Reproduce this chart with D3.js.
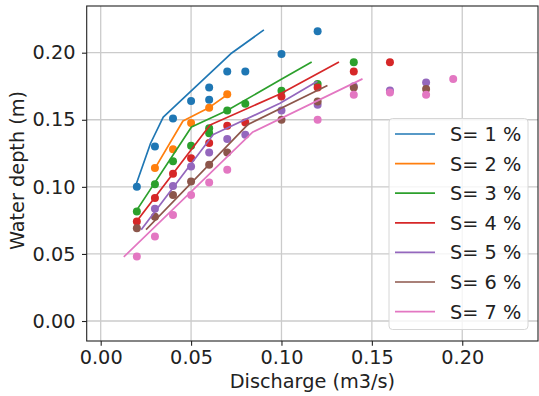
<!DOCTYPE html>
<html>
<head>
<meta charset="utf-8">
<script src="https://cdn.jsdelivr.net/npm/d3@7"></script>
<style>
  html, body { margin: 0; padding: 0; background: #fff; }
  svg { display: block; font-family: "DejaVu Sans", sans-serif; }
</style>
</head>
<body>
<svg id="chart" width="539" height="396"></svg>
<script>
// Tick values on both axes
const xTicks = [0.00, 0.05, 0.10, 0.15, 0.20];
const yTicks = [0.00, 0.05, 0.10, 0.15, 0.20];

// Slope of each series (%)
const slopes = [1, 2, 3, 4, 5, 6, 7];
const colors = ["#1f77b4", "#ff7f0e", "#2ca02c", "#d62728", "#9467bd", "#8c564b", "#e377c2"];

// Measured points: discharge (m3/s) and water depth (m)
const s1Q = [0.02, 0.03, 0.04, 0.05, 0.06, 0.06, 0.07, 0.08, 0.10, 0.12];
const s1H = [0.100, 0.130, 0.151, 0.164, 0.165, 0.174, 0.186, 0.186, 0.199, 0.216];
const s2Q = [0.03, 0.04, 0.05, 0.06, 0.07];
const s2H = [0.114, 0.128, 0.1475, 0.159, 0.169];
const s3Q = [0.02, 0.03, 0.04, 0.05, 0.06, 0.06, 0.07, 0.08, 0.10, 0.12, 0.14];
const s3H = [0.0816, 0.102, 0.119, 0.1306, 0.140, 0.1437, 0.157, 0.162, 0.1716, 0.1766, 0.1928];
const s4Q = [0.02, 0.03, 0.04, 0.05, 0.06, 0.07, 0.08, 0.10, 0.12, 0.14, 0.16];
const s4H = [0.0742, 0.0916, 0.1097, 0.1214, 0.1326, 0.1455, 0.148, 0.1674, 0.174, 0.186, 0.1928];
const s5Q = [0.03, 0.04, 0.05, 0.06, 0.07, 0.08, 0.10, 0.12, 0.14, 0.16, 0.18];
const s5H = [0.0836, 0.1007, 0.1152, 0.1256, 0.1356, 0.1388, 0.157, 0.1612, 0.1749, 0.1719, 0.1778];
const s6Q = [0.02, 0.03, 0.04, 0.05, 0.06, 0.07, 0.10, 0.12, 0.14, 0.18];
const s6H = [0.0692, 0.0778, 0.094, 0.104, 0.1164, 0.1256, 0.150, 0.1637, 0.174, 0.1729];
const s7Q = [0.02, 0.03, 0.04, 0.05, 0.06, 0.07, 0.12, 0.14, 0.16, 0.18, 0.195];
const s7H = [0.048, 0.0629, 0.079, 0.094, 0.1032, 0.1127, 0.150, 0.1687, 0.1704, 0.1687, 0.1804];

// Computed depth curves
const c1Q = [0.0193, 0.0276, 0.0346, 0.0725, 0.0899];
const c1H = [0.1007, 0.1325, 0.1519, 0.1998, 0.2166];
const c2Q = [0.0300, 0.0455, 0.0601, 0.0700];
const c2H = [0.1138, 0.1491, 0.1592, 0.1687];
const c3Q = [0.0194, 0.0502, 0.0699, 0.0992, 0.1163];
const c3H = [0.0815, 0.1446, 0.1569, 0.1796, 0.1927];
const c4Q = [0.0198, 0.0605, 0.0992, 0.1314];
const c4H = [0.0742, 0.1461, 0.1692, 0.1928];
const c5Q = [0.0227, 0.0623, 0.0992, 0.1195];
const c5H = [0.0686, 0.1390, 0.1623, 0.1784];
const c6Q = [0.0254, 0.0815, 0.1250];
const c6H = [0.0686, 0.1465, 0.1752];
const c7Q = [0.0131, 0.0842, 0.1444];
const c7H = [0.0482, 0.1409, 0.1802];

const pointsQ = [s1Q, s2Q, s3Q, s4Q, s5Q, s6Q, s7Q];
const pointsH = [s1H, s2H, s3H, s4H, s5H, s6H, s7H];
const curveQ = [c1Q, c2Q, c3Q, c4Q, c5Q, c6Q, c7Q];
const curveH = [c1H, c2H, c3H, c4H, c5H, c6H, c7H];

const svg = d3.select("#chart");
const plotLeft = 86.7, plotRight = 538, plotTop = 6, plotBottom = 341;

const x = d3.scaleLinear().domain([-0.00774, 0.2419]).range([plotLeft, plotRight]);
const y = d3.scaleLinear().domain([-0.0149, 0.2348]).range([plotBottom, plotTop]);

const fontSize = 19.3;

// Grid
const grid = svg.append("g");
grid.selectAll("line.gx").data(xTicks).join("line").attr("class", "gx")
  .attr("x1", d => x(d)).attr("x2", d => x(d))
  .attr("y1", plotTop).attr("y2", plotBottom)
  .attr("stroke", "#cbcbcb").attr("stroke-width", 1.3);
grid.selectAll("line.gy").data(yTicks).join("line").attr("class", "gy")
  .attr("y1", d => y(d)).attr("y2", d => y(d))
  .attr("x1", plotLeft).attr("x2", plotRight)
  .attr("stroke", "#cbcbcb").attr("stroke-width", 1.3);

// Axes
const xAxis = d3.axisBottom(x).tickValues(xTicks).tickFormat(d3.format(".2f")).tickSizeOuter(0).tickSize(4.7).tickPadding(5);
const yAxis = d3.axisLeft(y).tickValues(yTicks).tickFormat(d3.format(".2f")).tickSizeOuter(0).tickSize(4.7).tickPadding(6.5);

const gx = svg.append("g").attr("transform", `translate(0,${plotBottom})`).call(xAxis);
const gy = svg.append("g").attr("transform", `translate(${plotLeft},0)`).call(yAxis);
[gx, gy].forEach(g => {
  g.select(".domain").remove();
  g.selectAll(".tick line").attr("stroke", "#222").attr("stroke-width", 1.1);
  g.selectAll(".tick text").attr("fill", "#222")
    .style("font-family", "DejaVu Sans, sans-serif").style("font-size", fontSize + "px");
});

// Measured points (drawn beneath the curves)
const pts = svg.append("g");
slopes.forEach((s, i) => {
  const data = pointsQ[i].map((q, j) => ({ q, h: pointsH[i][j] }));
  pts.append("g").selectAll("circle").data(data).join("circle")
    .attr("cx", d => x(d.q)).attr("cy", d => y(d.h))
    .attr("r", 4).attr("fill", colors[i]);
});

// Computed curves
const lineGen = d3.line().x(d => x(d.q)).y(d => y(d.h));
const curves = svg.append("g");
slopes.forEach((s, i) => {
  const data = curveQ[i].map((q, j) => ({ q, h: curveH[i][j] }));
  curves.append("path").datum(data)
    .attr("d", lineGen).attr("fill", "none")
    .attr("stroke", colors[i]).attr("stroke-width", 1.7)
    .attr("stroke-linejoin", "round").attr("stroke-linecap", "square");
});

// Frame
svg.append("rect").attr("x", plotLeft).attr("y", plotTop)
  .attr("width", plotRight - plotLeft).attr("height", plotBottom - plotTop)
  .attr("fill", "none").attr("stroke", "#222").attr("stroke-width", 1.1);

// Axis titles
svg.append("text").attr("x", (plotLeft + plotRight) / 2).attr("y", 388)
  .attr("text-anchor", "middle").attr("fill", "#222")
  .style("font-size", fontSize + "px").text("Discharge (m3/s)");
svg.append("text")
  .attr("transform", `translate(24,${(plotTop + plotBottom) / 2 - 3}) rotate(-90)`)
  .attr("text-anchor", "middle").attr("fill", "#222")
  .style("font-size", fontSize + "px").text("Water depth (m)");

// Legend
const lg = svg.append("g");
lg.append("rect").attr("x", 389).attr("y", 118.5).attr("width", 139).attr("height", 211)
  .attr("rx", 3.5).attr("fill", "#fff").attr("fill-opacity", 0.8)
  .attr("stroke", "#d6d6d6").attr("stroke-width", 1);
slopes.forEach((s, i) => {
  const cy = 134 + i * 29.6;
  lg.append("line").attr("x1", 395).attr("x2", 435).attr("y1", cy).attr("y2", cy)
    .attr("stroke", colors[i]).attr("stroke-width", 1.7);
  lg.append("text").attr("x", 450).attr("y", cy).attr("dy", "0.36em")
    .attr("fill", "#222").style("font-size", fontSize + "px")
    .text(`S= ${s} %`);
});
</script>
</body>
</html>
